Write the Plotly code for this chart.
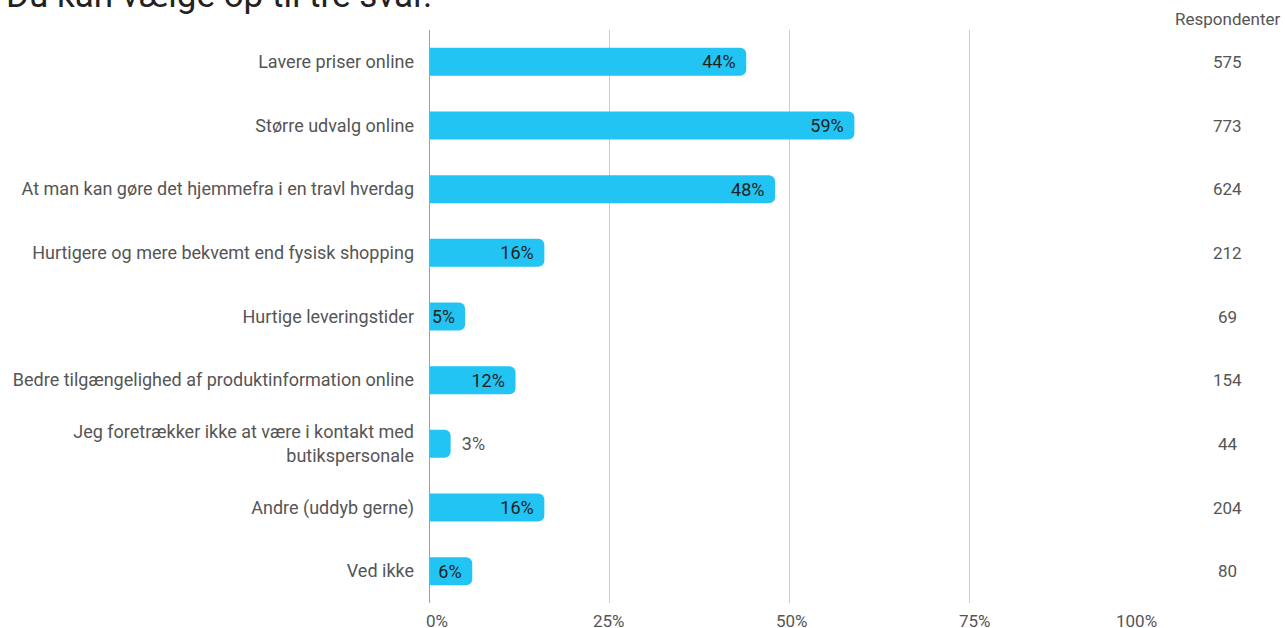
import plotly.graph_objects as go

categories = [
    "Lavere priser online",
    "Større udvalg online",
    "At man kan gøre det hjemmefra i en travl hverdag",
    "Hurtigere og mere bekvemt end fysisk shopping",
    "Hurtige leveringstider",
    "Bedre tilgængelighed af produktinformation online",
    "Jeg foretrækker ikke at være i kontakt med<br>butikspersonale",
    "Andre (uddyb gerne)",
    "Ved ikke",
]
percent = [44, 59, 48, 16, 5, 12, 3, 16, 6]
respondents = [575, 773, 624, 212, 69, 154, 44, 204, 80]
tick_vals = [0, 0.25, 0.5, 0.75, 1.0]
tick_text = ["0%", "25%", "50%", "75%", "100%"]
title_text = "Du kan vælge op til tre svar."
resp_header = "Respondenter"

FONT = "Roboto"
GREY = "#555555"

values = [p / 100 for p in percent]
positions = ["inside" if p >= 5 else "outside" for p in percent]
labels = [
    (f"{p}%\u00a0\u200a" if pos == "inside" else f"\u00a0\u2009{p}%")
    for p, pos in zip(percent, positions)
]

fig = go.Figure()
fig.add_trace(go.Bar(
    x=values, y=categories, orientation="h",
    marker=dict(color="#21c4f3", line=dict(width=0), cornerradius=6),
    width=0.44,
    text=labels, textposition=positions, insidetextanchor="end",
    textangle=0, constraintext="none",
    insidetextfont=dict(family=FONT, size=18, color="#222222"),
    outsidetextfont=dict(family=FONT, size=18, color=GREY),
    cliponaxis=False,
    hoverinfo="skip",
))

annotations = []
annotations.append(dict(
    text=title_text, xref="paper", yref="paper", x=-0.589, y=1.021,
    xanchor="left", yanchor="bottom", showarrow=False,
    font=dict(family=FONT, size=35, color="#222222"),
))
annotations.append(dict(
    text=resp_header, xref="paper", yref="paper", x=1.108, y=1.0,
    xanchor="center", yanchor="bottom", yshift=-1, showarrow=False,
    font=dict(family=FONT, size=17, color=GREY),
))
for cat, r in zip(categories, respondents):
    annotations.append(dict(
        text=str(r), xref="paper", yref="y", x=1.108, y=cat,
        xanchor="center", yanchor="middle", showarrow=False,
        font=dict(family=FONT, size=17, color=GREY),
    ))
shifts = [8, 0, 2, 5, -14]
for tv, tt, sh in zip(tick_vals, tick_text, shifts):
    annotations.append(dict(
        text=tt, xref="x", yref="paper", x=tv, y=0, yshift=-18,
        xshift=sh, xanchor="center", yanchor="middle", showarrow=False,
        font=dict(family=FONT, size=17, color=GREY),
    ))

fig.update_layout(
    width=1285, height=628,
    margin=dict(l=429, r=135, t=30, b=25, autoexpand=False),
    paper_bgcolor="white", plot_bgcolor="white",
    showlegend=False,
    font=dict(family=FONT, size=18, color=GREY),
    xaxis=dict(
        range=[0, 1], tickvals=tick_vals, showticklabels=False,
        showgrid=True, gridcolor="#cccccc", gridwidth=1,
        zeroline=False, showline=False, fixedrange=True,
    ),
    yaxis=dict(
        categoryorder="array", categoryarray=categories,
        autorange="reversed",
        showgrid=False, zeroline=False, showline=False,
        ticks="", ticklabelstandoff=14,
        tickfont=dict(family=FONT, size=18, color=GREY),
        automargin=False,
    ),
    annotations=annotations,
    shapes=[dict(type="line", xref="x", yref="paper", x0=0, x1=0, y0=0, y1=1,
                 line=dict(color="#9e9e9e", width=2))],
)

fig.write_html(
    "out.html",
    config={"displayModeBar": False},
    post_script="document.body.style.margin='0';document.body.style.overflow='hidden';",
)
